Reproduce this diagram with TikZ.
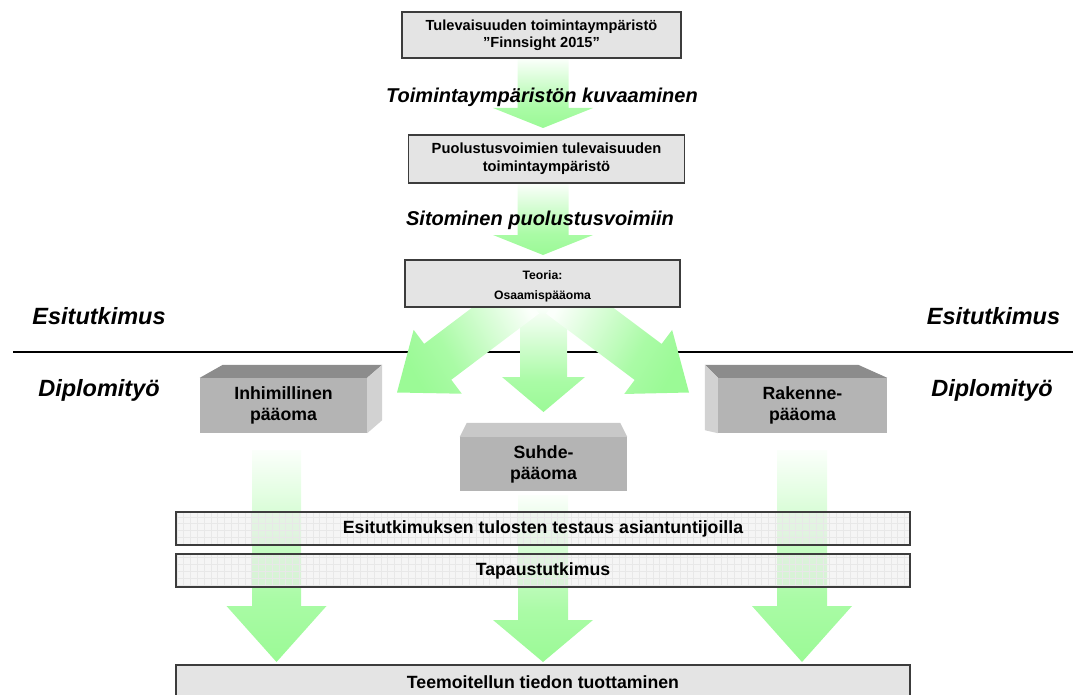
\documentclass[tikz,border=0pt]{standalone}
\usepackage{fontspec}
\setmainfont{Liberation Sans}
\usetikzlibrary{calc}

\pgfdeclarelayer{arrowlayer}
\pgfdeclarelayer{barlayer}
\pgfsetlayers{arrowlayer,barlayer,main}

\definecolor{agreen}{RGB}{155,250,150}
\colorlet{agreenmid}{agreen!85!white}
\colorlet{agreenpale}{agreen!4!white}
\definecolor{boxfill}{RGB}{228,228,228}
\definecolor{frontgray}{RGB}{180,180,180}
\definecolor{topgray}{RGB}{140,140,140}
\definecolor{sidegray}{RGB}{210,210,210}
\definecolor{suhdetop}{RGB}{200,200,200}
\definecolor{edgegray}{RGB}{60,60,60}
\definecolor{barfill}{RGB}{238,238,238}

% green fading used by all block arrows (bottom = arrow head)
\pgfdeclareverticalshading{arrowfade}{100bp}{color(0bp)=(agreen); color(25bp)=(agreen); color(40bp)=(agreenmid); color(75bp)=(agreenpale); color(100bp)=(agreenpale)}

% block arrow: #1 start, #2 tip, #3 half shaft width, #4 half head width,
% #5 head length, #6 shading angle
\newcommand\blockarrow[6]{%
  \coordinate (ah) at ($(#2)!#5!(#1)$);
  \shade[shading=arrowfade, shading angle=#6]
    ($(#1)!#3!90:(#2)$) -- ($(ah)!#3!90:(#2)$) -- ($(ah)!#4!90:(#2)$) -- (#2)
    -- ($(ah)!#4!-90:(#2)$) -- ($(ah)!#3!-90:(#2)$) -- ($(#1)!#3!-90:(#2)$) -- cycle;
}

\begin{document}
\begin{tikzpicture}[x=1pt,y=-1pt,
  flatbox/.style={draw=edgegray, line width=1.2pt, fill=boxfill, align=center, inner sep=0pt},
  barframe/.style={draw=edgegray, line width=1.2pt, align=center, inner sep=0pt,
    minimum width=734pt, minimum height=33pt,
    font=\bfseries\fontsize{17.7}{21}\selectfont},
  frontface/.style={fill=frontgray, align=center, inner sep=0pt,
    font=\bfseries\fontsize{17.7}{21}\selectfont},
  phase/.style={font=\bfseries\itshape\fontsize{23.5}{28}\selectfont},
  steplabel/.style={font=\bfseries\itshape\fontsize{20}{24}\selectfont},
  gridline/.style={draw=black!9, line width=0.4pt}]
\useasboundingbox (0,0) rectangle (1073,695);

% ---- flat boxes of the upper part
\node[flatbox, minimum width=279pt, minimum height=46pt,
  font=\bfseries\fontsize{14.6}{17}\selectfont] (b1) at (541.5,35)
  {Tulevaisuuden toimintaympäristö\\”Finnsight 2015”};
\node[flatbox, minimum width=276pt, minimum height=48pt,
  font=\bfseries\fontsize{14.7}{18}\selectfont] (b2) at (546.5,159)
  {Puolustusvoimien tulevaisuuden\\toimintaympäristö};
\node[flatbox, minimum width=275pt, minimum height=47pt,
  font=\bfseries\fontsize{12.2}{20}\selectfont] (b3) at (542.5,283.5)
  {\rule{0pt}{15pt}Teoria:\\Osaamispääoma};

% ---- step labels
\node[steplabel] (l1) at (542,97) {Toimintaympäristön kuvaaminen};
\node[steplabel] (l2) at (540,220) {Sitominen puolustusvoimiin};

% ---- phase labels
\node[phase] (e1) at (99,316) {Esitutkimus};
\node[phase] (e2) at (993.5,316) {Esitutkimus};
\node[phase] (d1) at (99,390) {Diplomityö};
\node[phase] (d2) at (992,390) {Diplomityö};

% ---- 3D blocks
\node[frontface, minimum width=167pt, minimum height=55pt] (inh) at (283.5,405.5)
  {Inhimillinen\\pääoma};
\fill[topgray] (inh.north west) -- ++(23,-13) -- ($(inh.north east)+(15,-13)$) -- (inh.north east) -- cycle;
\fill[sidegray] (inh.north east) -- ++(15,-13) -- ($(inh.south east)+(15,-13)$) -- (inh.south east) -- cycle;

\node[frontface, minimum width=167pt, minimum height=54pt] (suh) at (543.5,464)
  {Suhde-\\pääoma};
\fill[suhdetop] (suh.north west) -- ++(7,-14) -- ($(suh.north east)+(-7,-14)$) -- (suh.north east) -- cycle;

\node[frontface, minimum width=169pt, minimum height=55pt] (rak) at (802.5,405.5)
  {Rakenne-\\pääoma};
\fill[topgray] (rak.north west) -- ++(-13,-13) -- ($(rak.north east)+(-29,-13)$) -- (rak.north east) -- cycle;
\fill[sidegray] (rak.north west) -- ++(-13,-13) -- ($(rak.south west)+(-13,-3)$) -- (rak.south west) -- cycle;

% ---- bars of the lower part
\node[barframe] (bar1) at (543,528.5) {Esitutkimuksen tulosten testaus asiantuntijoilla};
\node[barframe] (bar2) at (543,570.5) {Tapaustutkimus};
\node[flatbox, minimum width=734pt, minimum height=34pt,
  font=\bfseries\fontsize{17.7}{21}\selectfont] (bar3) at (543,682)
  {Teemoitellun tiedon tuottaminen};

\begin{pgfonlayer}{barlayer}
  \foreach \b in {bar1,bar2}{
    \fill[barfill, fill opacity=0.6] (\b.north west) rectangle (\b.south east);
    \begin{scope}
      \clip (\b.north west) rectangle (\b.south east);
      \draw[gridline, step=6.8pt] (\b.south west) grid (\b.north east);
    \end{scope}
  }
\end{pgfonlayer}

% ---- divider and block arrows
\begin{pgfonlayer}{arrowlayer}
  \coordinate (hl) at (13,352);
  \coordinate (hr) at (1073,352);
  \draw[line width=1.5pt] (hl) -- (hr);

  \coordinate (tip1) at (543,128);
  \coordinate (s1) at (tip1 |- b1.south);
  \blockarrow{s1}{tip1}{25.5pt}{50pt}{20pt}{0}

  \coordinate (tip2) at (543,255);
  \coordinate (s2) at (tip2 |- b2.south);
  \blockarrow{s2}{tip2}{25.5pt}{50pt}{20pt}{0}

  \coordinate (tip3) at (543.5,412);
  \coordinate (s3) at (tip3 |- b3.south);
  \blockarrow{s3}{tip3}{23.5pt}{41.5pt}{35pt}{0}

  \coordinate (sL) at ($(b3.south)+(-17,-12)$);
  \coordinate (tipL) at (397,392.5);
  \blockarrow{sL}{tipL}{22.5pt}{40pt}{51pt}{-60}

  \coordinate (sR) at ($(b3.south)+(17,-12)$);
  \coordinate (tipR) at (689,392.5);
  \blockarrow{sR}{tipR}{22.5pt}{40pt}{51pt}{60}

  \coordinate (sLL) at (276.5,450);
  \coordinate (tipLL) at (276.5,662);
  \blockarrow{sLL}{tipLL}{24.5pt}{50pt}{56pt}{0}

  \coordinate (sCL) at (543,495);
  \coordinate (tipCL) at (543,662);
  \blockarrow{sCL}{tipCL}{25pt}{50pt}{42pt}{0}

  \coordinate (sRL) at (802,450);
  \coordinate (tipRL) at (802,662);
  \blockarrow{sRL}{tipRL}{25pt}{50pt}{56pt}{0}
\end{pgfonlayer}
\end{tikzpicture}
\end{document}
